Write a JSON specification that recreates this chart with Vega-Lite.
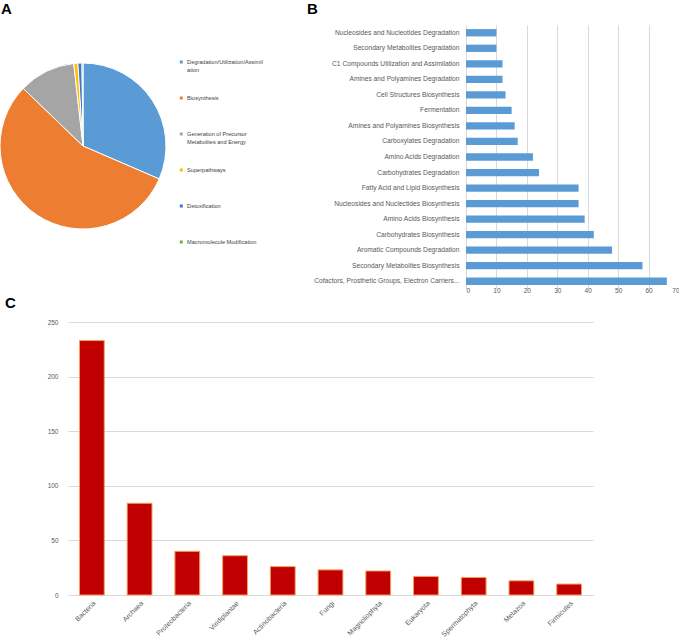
{
  "$schema": "https://vega.github.io/schema/vega-lite/v6.json",
  "padding": {"left": -2, "top": 2, "right": 0, "bottom": 0},
  "config": {
    "view": {"stroke": null},
    "font": "Liberation Sans",
    "title": {"fontSize": 15, "fontWeight": "bold", "anchor": "start", "frame": "bounds", "color": "#000000"}
  },
  "spacing": 2,
  "vconcat": [
    {
      "spacing": 40,
      "resolve": {"scale": {"color": "independent"}, "legend": {"color": "independent"}},
      "hconcat": [
        {
          "title": {"text": "A", "offset": 8, "dx": 3},
          "width": 30,
          "height": 242,
          "data": {"values": [
            {"idx": 1, "class": "Degradation/Utilization/Assimilation", "count": 160},
            {"idx": 2, "class": "Biosynthesis", "count": 283},
            {"idx": 3, "class": "Generation of Precursor Metabolites and Energy", "count": 56},
            {"idx": 4, "class": "Superpathways", "count": 4},
            {"idx": 5, "class": "Detoxification", "count": 4},
            {"idx": 6, "class": "Macromolecule Modification", "count": 1}
          ]},
          "mark": {"type": "arc", "radius": 83, "stroke": "white", "strokeWidth": 1},
          "encoding": {
            "theta": {"field": "count", "type": "quantitative", "stack": true},
            "order": {"field": "idx", "type": "quantitative"},
            "color": {
              "field": "class", "type": "nominal",
              "scale": {
                "domain": ["Degradation/Utilization/Assimilation", "Biosynthesis", "Generation of Precursor Metabolites and Energy", "Superpathways", "Detoxification", "Macromolecule Modification"],
                "range": ["#5B9BD5", "#ED7D31", "#A5A5A5", "#FFC000", "#4472C4", "#70AD47"]
              },
              "legend": {
                "title": null,
                "orient": "none",
                "legendX": 110.5,
                "legendY": 19,
                "symbolType": "square",
                "symbolSize": 9,
                "symbolStrokeWidth": 0,
                "labelFontSize": 5.6,
                "labelColor": "#404040",
                "labelOffset": 3,
                "clipHeight": 36,
                "rowPadding": 0,
                "labelLimit": 200,
                "labelExpr": "datum.label == 'Degradation/Utilization/Assimilation' ? ['Degradation/Utilization/Assimil', 'ation'] : datum.label == 'Generation of Precursor Metabolites and Energy' ? ['Generation of Precursor', 'Metabolites and Energy'] : datum.label"
              }
            }
          }
        },
        {
          "title": {"text": "B", "offset": 8, "dx": 3},
          "width": 213,
          "height": 264,
          "data": {"values": [
            {"pathway": "Nucleosides and Nucleotides Degradation", "count": 10},
            {"pathway": "Secondary Metabolites Degradation", "count": 10},
            {"pathway": "C1 Compounds Utilization and Assimilation", "count": 12},
            {"pathway": "Amines and Polyamines Degradation", "count": 12},
            {"pathway": "Cell Structures Biosynthesis", "count": 13},
            {"pathway": "Fermentation", "count": 15},
            {"pathway": "Amines and Polyamines Biosynthesis", "count": 16},
            {"pathway": "Carboxylates Degradation", "count": 17},
            {"pathway": "Amino Acids Degradation", "count": 22},
            {"pathway": "Carbohydrates Degradation", "count": 24},
            {"pathway": "Fatty Acid and Lipid Biosynthesis", "count": 37},
            {"pathway": "Nucleosides and Nuclectides Biosynthesis", "count": 37},
            {"pathway": "Amino Acids Biosynthesis", "count": 39},
            {"pathway": "Carbohydrates Biosynthesis", "count": 42},
            {"pathway": "Aromatic Compounds Degradation", "count": 48},
            {"pathway": "Secondary Metabolites Biosynthesis", "count": 58},
            {"pathway": "Cofactors, Prosthetic Groups, Electron Carriers...", "count": 66}
          ]},
          "mark": {"type": "bar", "color": "#5B9BD5"},
          "encoding": {
            "y": {
              "field": "pathway", "type": "nominal", "sort": null,
              "scale": {"paddingInner": 0.53, "paddingOuter": 0.265},
              "axis": {"title": null, "ticks": false, "domain": false, "labelFontSize": 6.7, "labelColor": "#595959", "labelPadding": 7, "minExtent": 162, "maxExtent": 162, "labelLimit": 200}
            },
            "x": {
              "field": "count", "type": "quantitative",
              "scale": {"domain": [0, 70]},
              "axis": {"title": null, "values": [0, 10, 20, 30, 40, 50, 60, 70], "ticks": false, "domain": false, "grid": true, "gridColor": "#d9d9d9", "labelFontSize": 6.5, "labelColor": "#595959", "labelPadding": -2}
            }
          }
        }
      ]
    },
    {
      "title": {"text": "C", "offset": 8, "dx": 5},
      "width": 525,
      "height": 273,
      "data": {"values": [
        {"taxon": "Bacteria", "count": 233},
        {"taxon": "Archaea", "count": 84},
        {"taxon": "Proteobacteria", "count": 40},
        {"taxon": "Viridiplantae", "count": 36},
        {"taxon": "Actinobacteria", "count": 26},
        {"taxon": "Fungi", "count": 23},
        {"taxon": "Magnoliophyta", "count": 22},
        {"taxon": "Eukaryota", "count": 17},
        {"taxon": "Spermatophyta", "count": 16},
        {"taxon": "Metazoa", "count": 13},
        {"taxon": "Firmicutes", "count": 10}
      ]},
      "mark": {"type": "bar", "color": "#C00000", "stroke": "#F4A060", "strokeWidth": 1},
      "encoding": {
        "x": {
          "field": "taxon", "type": "nominal", "sort": null,
          "scale": {"paddingInner": 0.48, "paddingOuter": 0.24},
          "axis": {"title": null, "labelAngle": -45, "ticks": false, "domain": true, "domainColor": "#d9d9d9", "labelFontSize": 7, "labelColor": "#595959", "labelPadding": 4}
        },
        "y": {
          "field": "count", "type": "quantitative",
          "scale": {"domain": [0, 250]},
          "axis": {"title": null, "values": [0, 50, 100, 150, 200, 250], "ticks": false, "domain": false, "gridColor": "#d9d9d9", "labelFontSize": 6.5, "labelColor": "#595959", "labelPadding": 10, "minExtent": 68}
        }
      }
    }
  ]
}
